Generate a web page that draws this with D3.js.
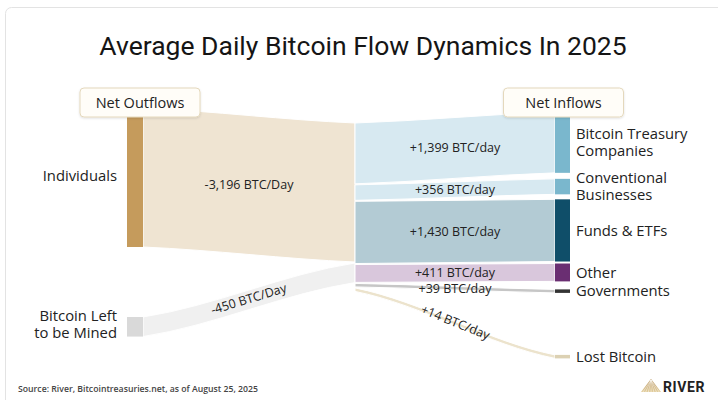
<!DOCTYPE html>
<html>
<head>
<meta charset="utf-8">
<script src="https://cdn.jsdelivr.net/npm/d3@7"></script>
<style>
  html, body { margin: 0; padding: 0; background: #fff; }
  svg { display: block; }
</style>
</head>
<body>
<svg id="chart" width="718" height="400"></svg>
<script>
// ---- Data: average daily bitcoin flows in 2025 (BTC per day) ----
const chartTitle = "Average Daily Bitcoin Flow Dynamics In 2025";
const sourceNote = "Source: River, Bitcointreasuries.net, as of August 25, 2025";
const columnHeaders = ["Net Outflows", "Net Inflows"];

const sourceNames = [["Individuals"], ["Bitcoin Left", "to be Mined"]];
const sourceValues = [3196, 450];
const sourceFlowLabels = ["-3,196 BTC/Day", "-450 BTC/Day"];

const targetNames = [
  ["Bitcoin Treasury", "Companies"],
  ["Conventional", "Businesses"],
  ["Funds & ETFs"],
  ["Other"],
  ["Governments"],
  ["Lost Bitcoin"]
];
const targetValues = [1399, 356, 1430, 411, 39, 14];
const targetFlowLabels = ["+1,399 BTC/day", "+356 BTC/day", "+1,430 BTC/day",
                          "+411 BTC/day", "+39 BTC/day", "+14 BTC/day"];

// ---- Styles ----
const sourceNodeColors = ["#c59b5c", "#d9d9d9"];
const sourceLinkColors = ["#efe4d2", "#f0f0f0"];
const targetNodeColors = ["#7ab7cd", "#7ab7cd", "#0f4e69", "#6a2e72", "#333333", "#dcd1b3"];
const targetLinkColors = ["#d7e9f1", "#d7e9f1", "#b3cbd4", "#d9c7dc", "#c6c6c6", "#ece3cc"];
const textColor = "#222";
const labelFont = "'Open Sans', 'DejaVu Sans', sans-serif";

// ---- Layout ----
const svg = d3.select("#chart");

// band thickness in px from BTC/day, with a small floor so tiny flows stay visible
const thickness = d3.scaleLinear().domain([0, d3.max(sourceValues)]).range([0, 139]);
const band = v => Math.max(thickness(v), 3.5);

// column x positions
const colX = d3.scaleOrdinal().domain(["source", "hub", "target"]).range([127, 355, 555]);
const nodeW = 16;
const sourceTop = 108, sourceGaps = [0, 70];
const targetTop = 112, targetGaps = [0, 6, 5, 2, 8, 62];
const hubTop = 123, hubGap = 1;
const straightness = 0.6; // 0 = horizontal tangents at the ends, 1 = straight band

function stack(values, top, gaps) {
  let y = top;
  return values.map((v, i) => {
    y += gaps[i];
    const n = { y0: y, y1: y + band(v) };
    y = n.y1;
    return n;
  });
}
const sourceNodes = stack(sourceValues, sourceTop, sourceGaps);
const targetNodes = stack(targetValues, targetTop, targetGaps);
const hubLeft = stack(sourceValues, hubTop, sourceValues.map((d, i) => i ? hubGap : 0));
const hubRight = stack(targetValues, hubTop, targetValues.map((d, i) => i ? hubGap : 0));

function edge(p, x0, y0, x1, y1) {
  const dx = (x1 - x0) / 3, dy = (y1 - y0) / 3 * straightness;
  p.bezierCurveTo(x0 + dx, y0 + dy, x1 - dx, y1 - dy, x1, y1);
}
function ribbon(x0, a0, b0, x1, a1, b1) {
  const p = d3.path();
  p.moveTo(x0, a0);
  edge(p, x0, a0, x1, a1);
  p.lineTo(x1, b1);
  edge(p, x1, b1, x0, b0);
  p.closePath();
  return p.toString();
}

// ---- Card frame ----
svg.append("rect")
  .attr("x", 5.5).attr("y", 7.5).attr("width", 730).attr("height", 420).attr("rx", 6)
  .attr("fill", "#fff").attr("stroke", "#e3e3e3");

// ---- Title ----
svg.append("text")
  .attr("x", 363).attr("y", 55)
  .attr("text-anchor", "middle")
  .attr("font-family", "Roboto, 'Open Sans', sans-serif")
  .attr("font-size", 26.5)
  .attr("fill", "#151515")
  .text(chartTitle);

// ---- Links ----
const sx1 = colX("source") + nodeW, hx = colX("hub"), tx0 = colX("target");
const links = svg.append("g").attr("stroke", "#fff").attr("stroke-width", 1);

links.selectAll(".src-link").data(sourceValues).join("path")
  .attr("class", "src-link")
  .attr("d", (v, i) => ribbon(sx1, sourceNodes[i].y0, sourceNodes[i].y1, hx, hubLeft[i].y0, hubLeft[i].y1))
  .attr("fill", (v, i) => sourceLinkColors[i]);

links.selectAll(".tgt-link").data(targetValues).join("path")
  .attr("class", "tgt-link")
  .attr("d", (v, i) => ribbon(hx, hubRight[i].y0, hubRight[i].y1, tx0, targetNodes[i].y0, targetNodes[i].y1))
  .attr("fill", (v, i) => targetLinkColors[i]);

// ---- Nodes ----
svg.append("g").selectAll("rect").data(sourceValues).join("rect")
  .attr("x", colX("source")).attr("width", nodeW)
  .attr("y", (v, i) => sourceNodes[i].y0)
  .attr("height", (v, i) => sourceNodes[i].y1 - sourceNodes[i].y0)
  .attr("fill", (v, i) => sourceNodeColors[i]);

svg.append("g").selectAll("rect").data(targetValues).join("rect")
  .attr("x", colX("target")).attr("width", 15)
  .attr("y", (v, i) => targetNodes[i].y0)
  .attr("height", (v, i) => targetNodes[i].y1 - targetNodes[i].y0)
  .attr("fill", (v, i) => targetNodeColors[i]);

// ---- Flow value labels ----
function flowLabel(x0, c0, x1, c1, text) {
  const mx = (x0 + x1) / 2, my = (c0 + c1) / 2;
  const steep = Math.abs(c1 - c0) > 30;
  // slope of the band centre line at its midpoint
  const slope = (c1 - c0) / (x1 - x0) * (1.5 - 0.5 * straightness);
  const angle = steep ? Math.atan(slope) * 180 / Math.PI : 0;
  svg.append("text")
    .attr("transform", `translate(${mx},${my}) rotate(${angle})`)
    .attr("y", steep ? -1 : 0)
    .attr("dy", "0.35em")
    .attr("text-anchor", "middle")
    .attr("font-family", labelFont)
    .attr("font-size", 12.5)
    .attr("fill", textColor)
    .text(text);
}
const mid = n => (n.y0 + n.y1) / 2;
sourceFlowLabels.forEach((t, i) => flowLabel(sx1, mid(sourceNodes[i]), hx, mid(hubLeft[i]), t));
targetFlowLabels.forEach((t, i) => flowLabel(hx, mid(hubRight[i]), tx0, mid(targetNodes[i]), t));

// ---- Node name labels ----
function nodeLabel(x, cy, lines, anchor) {
  const lh = 17;
  const t = svg.append("text")
    .attr("text-anchor", anchor)
    .attr("font-family", labelFont)
    .attr("font-size", 14.8)
    .attr("fill", textColor);
  lines.forEach((line, k) => {
    t.append("tspan")
      .attr("x", x)
      .attr("y", cy + (k - (lines.length - 1) / 2) * lh)
      .attr("dy", "0.35em")
      .text(line);
  });
}
sourceNames.forEach((lines, i) => nodeLabel(colX("source") - 10, mid(sourceNodes[i]) - 2, lines, "end"));
targetNames.forEach((lines, i) => nodeLabel(colX("target") + 21, mid(targetNodes[i]), lines, "start"));

// ---- Column header boxes ----
const defs = svg.append("defs");
const shadow = defs.append("filter").attr("id", "soft").attr("x", "-10%").attr("y", "-20%").attr("width", "120%").attr("height", "150%");
shadow.append("feDropShadow").attr("dx", 0).attr("dy", 1).attr("stdDeviation", 1.2)
  .attr("flood-color", "#000").attr("flood-opacity", 0.12);

const headerCenters = [140, 563.5];
columnHeaders.forEach((h, i) => {
  const g = svg.append("g").attr("transform", `translate(${headerCenters[i]},102.5)`);
  g.append("rect")
    .attr("x", -60).attr("y", -14.5).attr("width", 120).attr("height", 29).attr("rx", 4)
    .attr("fill", "#fffdf8").attr("stroke", "#e4d8bc").attr("filter", "url(#soft)");
  g.append("text")
    .attr("text-anchor", "middle").attr("dy", "0.35em")
    .attr("font-family", labelFont).attr("font-size", 14.5)
    .attr("fill", textColor)
    .text(h);
});

// ---- Footer ----
svg.append("text")
  .attr("x", 18).attr("y", 392)
  .attr("font-family", labelFont).attr("font-size", 8.7)
  .attr("font-weight", 600)
  .attr("fill", "#444")
  .text(sourceNote);

// River mark
const grad = defs.append("linearGradient").attr("id", "gold").attr("x1", 0).attr("y1", 0).attr("x2", 0).attr("y2", 1);
grad.append("stop").attr("offset", "0%").attr("stop-color", "#b08a4f");
grad.append("stop").attr("offset", "100%").attr("stop-color", "#e3cf9f");
const logo = svg.append("g").attr("transform", "translate(651,379)");
logo.append("path").attr("d", "M0,0 L-10,13 L10,13 Z").attr("fill", "url(#gold)");
d3.range(-8, 9, 2.7).forEach(dx => {
  logo.append("line").attr("x1", 0).attr("y1", 1).attr("x2", dx).attr("y2", 13)
    .attr("stroke", "#fff").attr("stroke-width", 0.6).attr("stroke-opacity", 0.8);
});
svg.append("text")
  .attr("x", 663).attr("y", 392)
  .attr("font-family", "Roboto, sans-serif").attr("font-weight", 700)
  .attr("font-size", 14).attr("letter-spacing", 0.6)
  .attr("fill", "#222")
  .text("RIVER");
</script>
</body>
</html>
